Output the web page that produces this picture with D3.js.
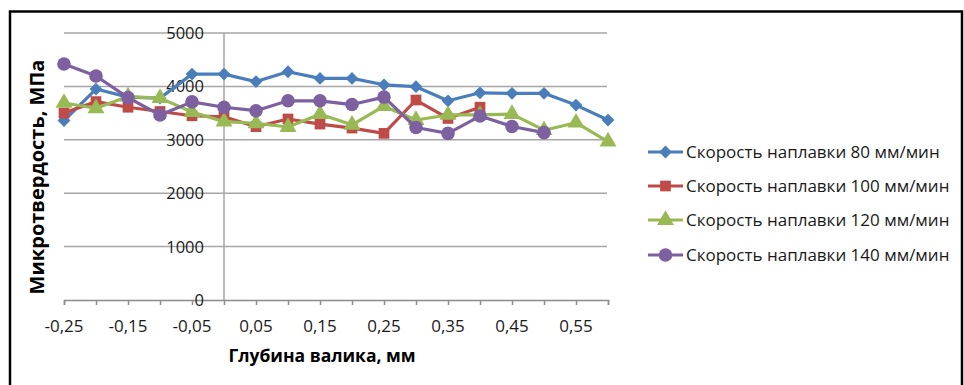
<!DOCTYPE html>
<html><head><meta charset="utf-8">
<script src="https://cdn.jsdelivr.net/npm/d3@7"></script>
<style>body{margin:0;background:#fff}svg{display:block}text{font-family:"Open Sans","Noto Sans",sans-serif}</style>
</head><body><svg id="c" width="964" height="385"></svg>
<script>
const depth = [-0.25,-0.2,-0.15,-0.1,-0.05,0,0.05,0.1,0.15,0.2,0.25,0.3,0.35,0.4,0.45,0.5,0.55,0.6];
const xTickLabels = [-0.25,-0.15,-0.05,0.05,0.15,0.25,0.35,0.45,0.55];
const yTicks = [0,1000,2000,3000,4000,5000];
const seriesNames = ["Скорость наплавки 80 мм/мин","Скорость наплавки 100 мм/мин","Скорость наплавки 120 мм/мин","Скорость наплавки 140 мм/мин"];
const s80  = [3360,3950,3800,3780,4230,4230,4090,4275,4150,4150,4030,3995,3730,3880,3870,3870,3650,3370];
const s100 = [3500,3715,3610,3530,3450,3430,3245,3390,3295,3220,3120,3745,3400,3610];
const s120 = [3690,3590,3810,3780,3520,3340,3310,3240,3480,3280,3630,3370,3465,3465,3480,3180,3320,2965];
const s140 = [4420,4195,3790,3465,3710,3610,3545,3730,3730,3660,3800,3230,3120,3445,3250,3135];
const colors = ["#4A7EBB","#BE4B48","#98B954","#7D60A0"];
const symbols = [d3.symbolDiamond2, d3.symbolSquare, d3.symbolTriangle, d3.symbolCircle];
const symSizes = [105, 115, 125, 145];

const svg = d3.select("#c");
const x = d3.scaleLinear().domain([-0.25,0.6]).range([64,608]);
const y = d3.scaleLinear().domain([0,5000]).range([300,33]);
const fmt = v => d3.format(".2f")(v).replace(".",",").replace("−","-");

// border
svg.append("rect").attr("x",10).attr("y",11.5).attr("width",952).attr("height",400)
  .attr("fill","none").attr("stroke","#000").attr("stroke-width",2.5);

// gridlines
svg.append("g").selectAll("line").data(yTicks.filter(d=>d>0)).join("line")
  .attr("x1",64).attr("x2",607).attr("y1",d=>y(d)).attr("y2",d=>y(d))
  .attr("stroke","#A6A6A6").attr("stroke-width",1.5);

// y axis at x=0
svg.append("line").attr("x1",x(0)).attr("x2",x(0)).attr("y1",y(5000)).attr("y2",y(0))
  .attr("stroke","#A6A6A6").attr("stroke-width",1.5);

// x axis
const xAxis = d3.axisBottom(x).tickValues(depth).tickSize(5).tickFormat("");
const gx = svg.append("g").attr("transform",`translate(0,${y(0)})`).call(xAxis);
gx.select(".domain").attr("stroke","#8C8C8C").attr("stroke-width",1.5);
gx.selectAll(".tick line").attr("stroke","#8C8C8C").attr("stroke-width",1.5);
svg.append("g").selectAll("text").data(xTickLabels).join("text")
  .attr("x",d=>x(d)).attr("y",332).attr("text-anchor","middle")
  .attr("font-size",17).attr("fill","#1a1a1a").text(fmt);

// y labels
svg.append("g").selectAll("text").data(yTicks).join("text")
  .attr("x",204).attr("y",d=>y(d)+6).attr("text-anchor","end")
  .attr("font-size",16.5).attr("fill","#1a1a1a").text(d=>d);

// titles
svg.append("text").attr("transform","translate(44,177) rotate(-90)").attr("text-anchor","middle")
  .attr("font-size",20).attr("font-weight","bold").attr("fill","#000").text("Микротвердость, МПа");
svg.append("text").attr("x",322).attr("y",362).attr("text-anchor","middle")
  .attr("font-size",17.5).attr("font-weight","bold").attr("fill","#000").text("Глубина валика, мм");

// series
const all = [s80,s100,s120,s140];
const line = d3.line().x((d,i)=>x(depth[i])).y(d=>y(d));
all.forEach((s,k)=>{
  const g = svg.append("g");
  g.append("path").datum(s).attr("d",line).attr("fill","none")
    .attr("stroke",colors[k]).attr("stroke-width",3.2).attr("stroke-linejoin","round");
  g.selectAll("path.m").data(s).join("path").attr("class","m")
    .attr("transform",(d,i)=>`translate(${x(depth[i])},${y(d)})`)
    .attr("d",d3.symbol().type(symbols[k]).size(symSizes[k])).attr("fill",colors[k]);
});

// legend
const legY = [152,186,220,255];
const lg = svg.append("g");
seriesNames.forEach((n,k)=>{
  lg.append("line").attr("x1",648).attr("x2",683).attr("y1",legY[k]).attr("y2",legY[k])
    .attr("stroke",colors[k]).attr("stroke-width",3.2);
  lg.append("path").attr("transform",`translate(665.5,${legY[k]})`)
    .attr("d",d3.symbol().type(symbols[k]).size(symSizes[k])).attr("fill",colors[k]);
  lg.append("text").attr("x",686).attr("y",legY[k]+6).attr("font-size",17).attr("fill","#1a1a1a").text(n);
});
</script></body></html>
